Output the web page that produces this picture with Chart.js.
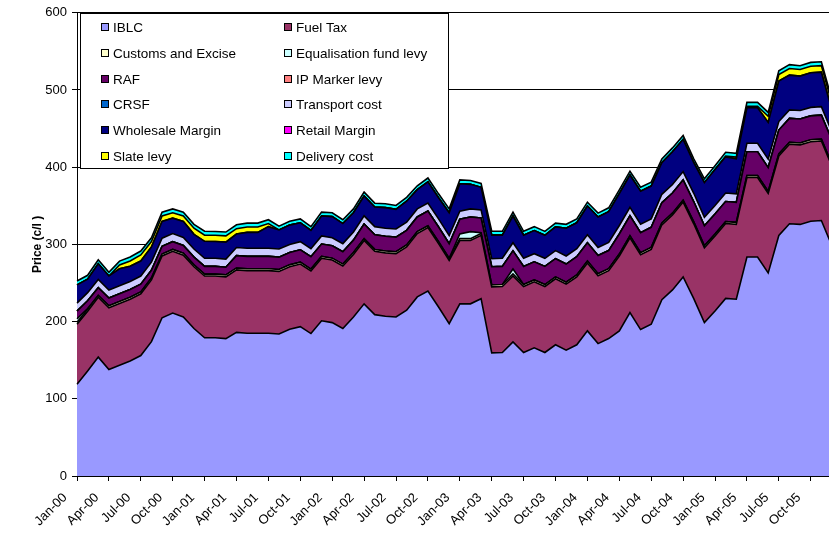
<!DOCTYPE html>
<html>
<head>
<meta charset="utf-8">
<script src="https://cdn.jsdelivr.net/npm/chart.js@4/dist/chart.umd.min.js"></script>
<style>
  html, body { margin: 0; padding: 0; background: #fff; overflow: hidden; }
  #wrap { width: 829px; height: 534px; overflow: hidden; }
</style>
</head>
<body>
<div id="wrap"><canvas id="fuelChart" width="840" height="534"></canvas></div>
<script>
// categories: monthly, Jan-00 .. Dec-05
const monthNames = ['Jan', 'Feb', 'Mar', 'Apr', 'May', 'Jun', 'Jul', 'Aug', 'Sep', 'Oct', 'Nov', 'Dec'];
const years = ['00', '01', '02', '03', '04', '05'];
const months = [];
years.forEach(y => monthNames.forEach(m => months.push(m + '-' + y)));

const yTicks = [0, 100, 200, 300, 400, 500, 600];

// series values in c/l, one row per year
const iblc = [
  119, 136, 154, 138, 143.5, 149, 156, 174, 205, 211, 206, 191,
  179, 179, 178, 186, 185, 185, 185, 184, 190, 193.5, 184.5, 201,
  198.7, 191, 206, 223, 209, 207, 206, 214.7, 232, 239.7, 219, 197.4,
  223, 223, 229.7, 159.5, 160, 173.7, 160, 166, 160, 170, 163, 170,
  188, 171.5, 178, 188, 211.6, 189.7, 196.6, 228.4, 241, 257.8, 229.7, 198.7,
  213.8, 230, 229, 283.6, 283.6, 263, 311.6, 326.7, 325.9, 330, 331, 298
];
const fuelTax = [
  77.5, 77.5, 77.5, 80, 80, 80, 80, 80, 80, 80, 80, 80,
  80, 80, 80, 81, 81, 81, 81, 81, 81, 81, 81, 81,
  81, 81, 81, 82, 82, 82, 82, 82, 82, 82, 82, 82,
  82, 82, 82, 85.5, 85.5, 85.5, 85.5, 85.5, 85.5, 85.5, 85.5, 88,
  88, 88, 88, 97, 97, 97, 97, 97, 97, 97, 97, 97,
  97, 97, 97, 103, 103, 103, 103, 103, 103, 103, 103, 103
];
const customs = [
  2.5, 2.5, 2.5, 2.5, 2.5, 2.5, 2.5, 2.5, 2.5, 2.5, 2.5, 2.5,
  2.5, 2.5, 2.5, 2.5, 2.5, 2.5, 2.5, 2.5, 2.5, 2.5, 2.5, 2.5,
  2.5, 2.5, 2.5, 2.5, 2.5, 2.5, 2.5, 2.5, 2.5, 2.5, 2.5, 2.5,
  2.5, 2.5, 2.5, 2.5, 2.5, 2.5, 2.5, 2.5, 2.5, 2.5, 2.5, 2.5,
  2.5, 2.5, 2.5, 2.5, 2.5, 2.5, 2.5, 2.5, 2.5, 2.5, 2.5, 2.5,
  2.5, 2.5, 2.5, 2.5, 2.5, 2.5, 2.5, 2.5, 2.5, 2.5, 2.5, 2.5
];
const eqLevy = [
  4.5, 1, 0, 0, 0, 0, 0, 0, 0, 0, 0, 0,
  0, 0, 0, 0, 0, 0, 0, 0, 0, 0, 0, 0,
  0, 0, 0, 0, 0, 0, 0, 0, 0, 0, 0, 0,
  6, 9, 1, 0, 0, 6.5, 0, 0, 0, 0, 0, 0,
  0, 0, 0, 0, 0, 0, 0, 0, 0, 0, 0, 0,
  0, 0, 0, 0, 0, 0, 0, 0, 0, 0, 0, 0
];
const raf = [
  10, 10, 10, 10, 10, 10, 10, 10, 10, 10, 10, 10,
  10, 10, 10, 16, 16, 16, 16, 16, 16, 16, 16, 16,
  16, 16, 16, 19, 19, 19, 19, 19, 19, 19, 19, 19,
  19, 19, 19, 23.5, 23.5, 23.5, 23.5, 23.5, 23.5, 23.5, 23.5, 23.5,
  23.5, 23.5, 23.5, 26, 26, 26, 26, 26, 26, 26, 26, 26,
  26, 26, 26, 31, 31, 31, 31, 31, 31, 31, 31, 31
];
const ipMarker = [
  0, 0, 0, 0, 0, 0, 0, 0, 0, 0, 0, 0,
  0, 0, 0, 0, 0, 0, 0, 0, 0, 0, 0, 0,
  0, 0, 0, 0, 0, 0, 0, 0, 0, 0, 0, 0,
  0, 0, 0, 0, 0, 0, 0, 0, 0, 0, 0, 0,
  0, 0, 0, 0, 0, 0, 0, 0, 0, 0, 0, 0,
  0, 0, 0, 0, 0, 0, 0, 0, 0, 0, 0, 0
];
const crsf = [
  0, 0, 0, 0, 0, 0, 0, 0, 0, 0, 0, 0,
  0, 0, 0, 0, 0, 0, 0, 0, 0, 0, 0, 0,
  0, 0, 0, 0, 0, 0, 0, 0, 0, 0, 0, 0,
  0, 0, 0, 0, 0, 0, 0, 0, 0, 0, 0, 0,
  0, 0, 0, 0, 0, 0, 0, 0, 0, 0, 0, 0,
  0, 0, 0, 0, 0, 0, 0, 0, 0, 0, 0, 0
];
const transport = [
  10.5, 10.5, 10.5, 10.5, 10.5, 10.5, 10.5, 10.5, 10.5, 10.5, 10.5, 10.5,
  10.5, 10.5, 10.5, 10.5, 10.5, 10.5, 10.5, 10.5, 10.5, 10.5, 10.5, 10.5,
  10.5, 10.5, 10.5, 10.5, 10.5, 10.5, 10.5, 10.5, 10.5, 10.5, 10.5, 10.5,
  10.5, 10.5, 10.5, 10.5, 10.5, 10.5, 10.5, 10.5, 10.5, 10.5, 10.5, 10.5,
  10.5, 10.5, 10.5, 11, 11, 11, 11, 11, 11, 11, 11, 11,
  11, 11, 11, 11, 11, 11, 11, 11, 11, 11, 11, 11
];
const wholesale = [
  23.6, 17.5, 20.5, 18, 21.9, 19.6, 19.4, 19.6, 21.8, 20, 20.8, 19,
  22, 21.8, 22, 17.4, 20.6, 20.6, 28, 24.7, 25, 24.5, 23.5, 25.8,
  27.3, 26, 25, 25.7, 25.4, 26.6, 25.4, 27.3, 25, 27.3, 27.5, 29.6,
  35.6, 31.8, 29.3, 30.5, 30, 34.6, 30, 30, 29.8, 30.6, 36, 33.5,
  37.2, 39.5, 39.9, 41.2, 41.7, 42.8, 42.5, 40.9, 42.5, 41.7, 39.6, 44.8,
  46.7, 46.9, 45.5, 45.9, 45.9, 47.5, 52.4, 45.1, 44.6, 44.8, 44.6, 28
];
const retail = [
  0, 0, 0, 0, 0, 0, 0, 0, 0, 0, 0, 0,
  0, 0, 0, 0, 0, 0, 0, 0, 0, 0, 0, 0,
  0, 0, 0, 0, 0, 0, 0, 0, 0, 0, 0, 0,
  0, 0, 0, 0, 0, 0, 0, 0, 0, 0, 0, 0,
  0, 0, 0, 0, 0, 0, 0, 0, 0, 0, 0, 0,
  0, 0, 0, 0, 0, 0, 0, 0, 0, 0, 0, 0
];
const slate = [
  0, 0, 0, 0, 5, 7, 8, 7, 7, 7, 7, 8,
  8, 8, 8, 7, 7, 7, 4, 0, 0, 0, 0, 0,
  0, 0, 0, 0, 0, 0, 0, 0, 0, 0, 0, 0,
  0, 0, 0, 0, 0, 0, 0, 0, 0, 0, 0, 0,
  0, 0, 0, 0, 0, 0, 0, 0, 0, 0, 0, 0,
  0, 1, 2, 2, 2, 8, 8.5, 8.5, 8.5, 8.5, 8.5, 8.5
];
const delivery = [
  5, 5, 5, 5, 5, 5, 5, 5, 5, 5, 5, 5,
  5, 5, 5, 5, 5, 5, 5, 5, 5, 5, 5, 5,
  5, 5, 5, 5, 5, 5, 5, 5, 5, 5, 5, 5,
  5, 5, 5, 5, 5, 5, 5, 5, 5, 5, 5, 5,
  5, 5, 5, 5, 5, 5, 5, 5, 5, 5, 5, 5,
  5, 5, 5, 5, 5, 5, 5, 5, 5, 5, 5, 5
];

const seriesNames = ['IBLC', 'Fuel Tax', 'Customs and Excise', 'Equalisation fund levy', 'RAF', 'IP Marker levy',
  'CRSF', 'Transport cost', 'Wholesale Margin', 'Retail Margin', 'Slate levy', 'Delivery cost'];
const seriesData = [iblc, fuelTax, customs, eqLevy, raf, ipMarker, crsf, transport, wholesale, retail, slate, delivery];
const seriesColors = ['#9999FF', '#993366', '#FFFFCC', '#CCFFFF', '#660066', '#FF8080',
  '#0066CC', '#CCCCFF', '#000080', '#FF00FF', '#FFFF00', '#00FFFF'];

// legend drawn as a boxed 2-column grid inside the plot area (like the Excel one)
const boxLegend = {
  id: 'boxLegend',
  afterDraw(chart) {
    const { ctx, chartArea } = chart;
    const x0 = Math.round(chartArea.left) + 3;
    const y0 = Math.round(chartArea.top);
    ctx.save();
    ctx.fillStyle = '#fff';
    ctx.fillRect(x0, y0, 368, 155);
    ctx.strokeStyle = '#000';
    ctx.lineWidth = 1;
    ctx.strokeRect(x0 + 0.5, y0 + 0.5, 368, 155);
    ctx.font = '13.5px "Liberation Sans", Arial, sans-serif';
    ctx.textBaseline = 'middle';
    ctx.textAlign = 'left';
    chart.data.datasets.forEach((ds, i) => {
      const kx = x0 + 21 + (i % 2) * 183;
      const ky = Math.round(y0 + 14 + Math.floor(i / 2) * 25.8);
      ctx.fillStyle = ds.backgroundColor;
      ctx.fillRect(kx, ky - 4, 8, 8);
      ctx.strokeRect(kx + 0.5, ky - 3.5, 7, 7);
      ctx.fillStyle = '#000';
      ctx.fillText(ds.label, kx + 12, ky + 1);
    });
    ctx.restore();
  }
};

Chart.defaults.font.family = '"Liberation Sans", Arial, sans-serif';
Chart.defaults.color = '#000';

new Chart(document.getElementById('fuelChart'), {
  type: 'line',
  data: {
    labels: months,
    datasets: seriesNames.map((name, i) => ({
      label: name,
      data: seriesData[i],
      backgroundColor: seriesColors[i],
      borderColor: '#000',
      borderWidth: 1.6,
      fill: i === 0 ? 'origin' : '-1',
      pointRadius: 0,
      tension: 0
    }))
  },
  options: {
    responsive: false,
    animation: false,
    layout: { padding: { top: 4, right: 8, left: 0, bottom: 0 } },
    plugins: { legend: { display: false }, tooltip: { enabled: false } },
    scales: {
      x: {
        offset: false,
        grid: {
          drawOnChartArea: false,
          drawTicks: true,
          tickLength: 5,
          tickColor: (c) => (c.index % 3 === 0 ? '#000' : 'rgba(0,0,0,0)')
        },
        border: { display: true, color: '#000', width: 1 },
        ticks: {
          autoSkip: false,
          minRotation: 45,
          maxRotation: 45,
          labelOffset: -12,
          padding: 9,
          font: { size: 13 },
          callback: function (v, idx) { return idx % 3 === 0 ? this.getLabelForValue(v) : ''; }
        },
        // plot runs on past the right edge of the window (cropped like the original)
        afterFit: (s) => { s.height = 58; s.paddingRight = 0; }
      },
      y: {
        stacked: true,
        min: yTicks[0],
        max: yTicks[yTicks.length - 1],
        afterBuildTicks: (s) => { s.ticks = yTicks.map(v => ({ value: v })); },
        grid: { color: '#000', lineWidth: 1, tickLength: 5, tickColor: '#000' },
        border: { display: true, color: '#000', width: 1 },
        ticks: { padding: 5, font: { size: 13 } },
        title: {
          display: true,
          text: 'Price (c/l )',
          font: { size: 12, weight: 'bold' },
          padding: { top: 30, bottom: 0 }
        },
        afterFit: (s) => { s.width = 77; }
      }
    }
  },
  plugins: [boxLegend]
});
</script>
</body>
</html>
